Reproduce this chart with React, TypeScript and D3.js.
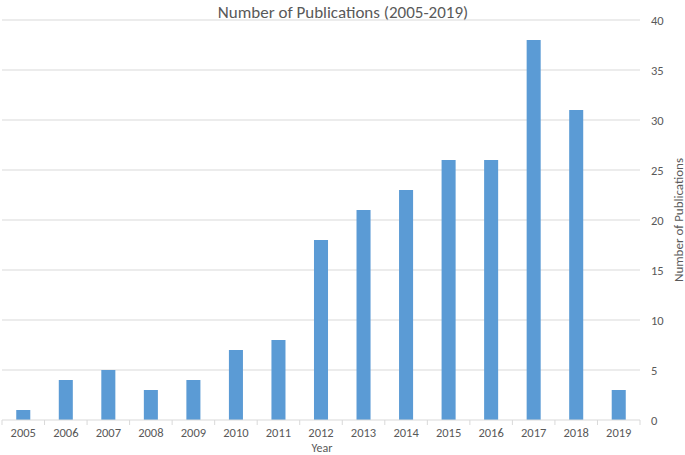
import React from "react";
import * as d3 from "d3";

const years = ["2005","2006","2007","2008","2009","2010","2011","2012","2013","2014","2015","2016","2017","2018","2019"];
const counts = [1,4,5,3,4,7,8,18,21,23,26,26,38,31,3];
const yTicks = [0,5,10,15,20,25,30,35,40];

export default function App() {
  const W = 685, H = 455;
  const left = 2, right = 640, top = 20, bottom = 420;
  const x = d3.scaleBand<string>().domain(years).range([left, right]).paddingInner(0.67).paddingOuter(0.335);
  const xb = d3.scaleBand<string>().domain(years).range([left, right]);
  const y = d3.scaleLinear().domain([0, 40]).range([bottom, top]);
  const font = "Carlito, Calibri, 'Open Sans', sans-serif";
  return (
    <svg width={W} height={H} style={{ position: "absolute", left: 0, top: 0, background: "#fff" }} fontFamily={font}>
      <text x={343} y={18} textAnchor="middle" fontSize={17} fill="#595959">Number of Publications (2005-2019)</text>
      {yTicks.map(t => (
        <g key={t}>
          {t > 0 && <line x1={left} x2={right} y1={y(t)} y2={y(t)} stroke="#d9d9d9" strokeWidth={1} />}
          <text x={651} y={y(t) + 4.5} fontSize={12.5} fill="#595959">{t}</text>
        </g>
      ))}
      {years.map((yr, i) => (
        <rect key={yr} x={x(yr)} y={y(counts[i])} width={x.bandwidth()} height={bottom - y(counts[i])} fill="#5b9bd5" />
      ))}
      <line x1={left} x2={right} y1={bottom} y2={bottom} stroke="#d9d9d9" />
      {years.concat(["end"]).map((yr, i) => {
        const xx = left + i * xb.bandwidth();
        return <line key={yr} x1={xx} x2={xx} y1={bottom} y2={bottom + 5} stroke="#d9d9d9" />;
      })}
      {years.map(yr => (
        <text key={yr} x={(xb(yr) as number) + xb.bandwidth() / 2} y={437} textAnchor="middle" fontSize={12.5} fill="#595959">{yr}</text>
      ))}
      <text x={322} y={452} textAnchor="middle" fontSize={12} fill="#595959">Year</text>
      <text transform={`translate(683,${y(20)}) rotate(-90)`} textAnchor="middle" fontSize={13} fill="#595959">Number of Publications</text>
    </svg>
  );
}
